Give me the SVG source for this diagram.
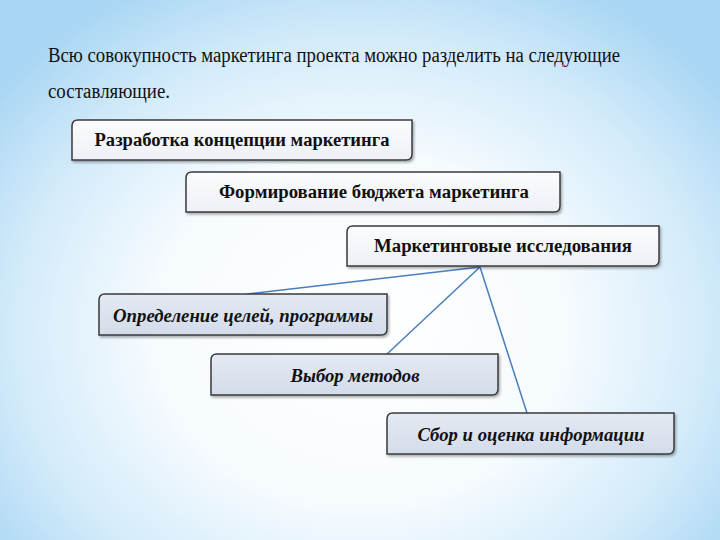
<svg xmlns="http://www.w3.org/2000/svg" width="720" height="540" viewBox="0 0 720 540">
<defs>
<radialGradient id="bg" cx="360" cy="330" r="460" gradientUnits="userSpaceOnUse" gradientTransform="translate(360 330) scale(1 0.85) translate(-360 -330)">
<stop offset="0" stop-color="#ffffff"/>
<stop offset="0.45" stop-color="#f6fbfe"/>
<stop offset="0.75" stop-color="#d3ebfa"/>
<stop offset="1" stop-color="#a9d6f4"/>
</radialGradient>
<linearGradient id="topfill" x1="0" y1="0" x2="0" y2="1">
<stop offset="0" stop-color="#fbfcfe"/>
<stop offset="1" stop-color="#edf0f6"/>
</linearGradient>
<linearGradient id="botfill" x1="0" y1="0" x2="0" y2="1">
<stop offset="0" stop-color="#e4eaf3"/>
<stop offset="1" stop-color="#d3dcea"/>
</linearGradient>
<filter id="sh" x="-5%" y="-20%" width="110%" height="150%">
<feDropShadow dx="1.5" dy="2" stdDeviation="1.2" flood-color="#000" flood-opacity="0.3"/>
</filter>
</defs>
<style>
.title{font-family:"Liberation Serif","Times New Roman",serif;font-size:20px;fill:#111}
.box{stroke:#3a3a3a;stroke-width:1.5;filter:url(#sh)}
.top{fill:url(#topfill)}
.bot{fill:url(#botfill)}
.lbl{font-family:"Liberation Serif","Times New Roman",serif;font-size:18.5px;font-weight:bold;fill:#111;text-anchor:middle}
.it{font-style:italic}
.conn{stroke:#4a7ebb;stroke-width:1.5;fill:none}
</style>
<rect width="720" height="540" fill="url(#bg)"/>
<g id="title">
<text class="title" x="48" y="62" textLength="572" lengthAdjust="spacingAndGlyphs">Всю совокупность маркетинга проекта можно разделить на следующие</text>
<text class="title" x="48" y="98" textLength="122" lengthAdjust="spacingAndGlyphs">составляющие.</text>
</g>
<g id="connectors">
<line class="conn" x1="480" y1="267" x2="247" y2="294"/>
<line class="conn" x1="480" y1="267" x2="387" y2="354"/>
<line class="conn" x1="480" y1="267" x2="527" y2="413"/>
</g>
<g id="n1">
<path class="box top" d="M78 120 H412 V154 Q412 160 406 160 H72 V126 Q72 120 78 120 Z"/>
<text class="lbl" x="242" y="146" textLength="295" lengthAdjust="spacingAndGlyphs">Разработка концепции маркетинга</text>
</g>
<g id="n2">
<path class="box top" d="M192 172 H560 V206 Q560 212 554 212 H186 V178 Q186 172 192 172 Z"/>
<text class="lbl" x="374" y="198" textLength="310" lengthAdjust="spacingAndGlyphs">Формирование бюджета маркетинга</text>
</g>
<g id="n3">
<path class="box top" d="M353 226 H659 V260 Q659 266 653 266 H347 V232 Q347 226 353 226 Z"/>
<text class="lbl" x="503" y="252" textLength="258" lengthAdjust="spacingAndGlyphs">Маркетинговые исследования</text>
</g>
<g id="n4">
<path class="box bot" d="M105 294 H387 V329 Q387 335 381 335 H99 V300 Q99 294 105 294 Z"/>
<text class="lbl it" x="243" y="322" textLength="260" lengthAdjust="spacingAndGlyphs">Определение целей, программы</text>
</g>
<g id="n5">
<path class="box bot" d="M217 354 H498 V389 Q498 395 492 395 H211 V360 Q211 354 217 354 Z"/>
<text class="lbl it" x="355" y="382" textLength="129" lengthAdjust="spacingAndGlyphs">Выбор методов</text>
</g>
<g id="n6">
<path class="box bot" d="M393 413 H674 V448 Q674 454 668 454 H387 V419 Q387 413 393 413 Z"/>
<text class="lbl it" x="531" y="441" textLength="227" lengthAdjust="spacingAndGlyphs">Сбор и оценка информации</text>
</g>
</svg>
